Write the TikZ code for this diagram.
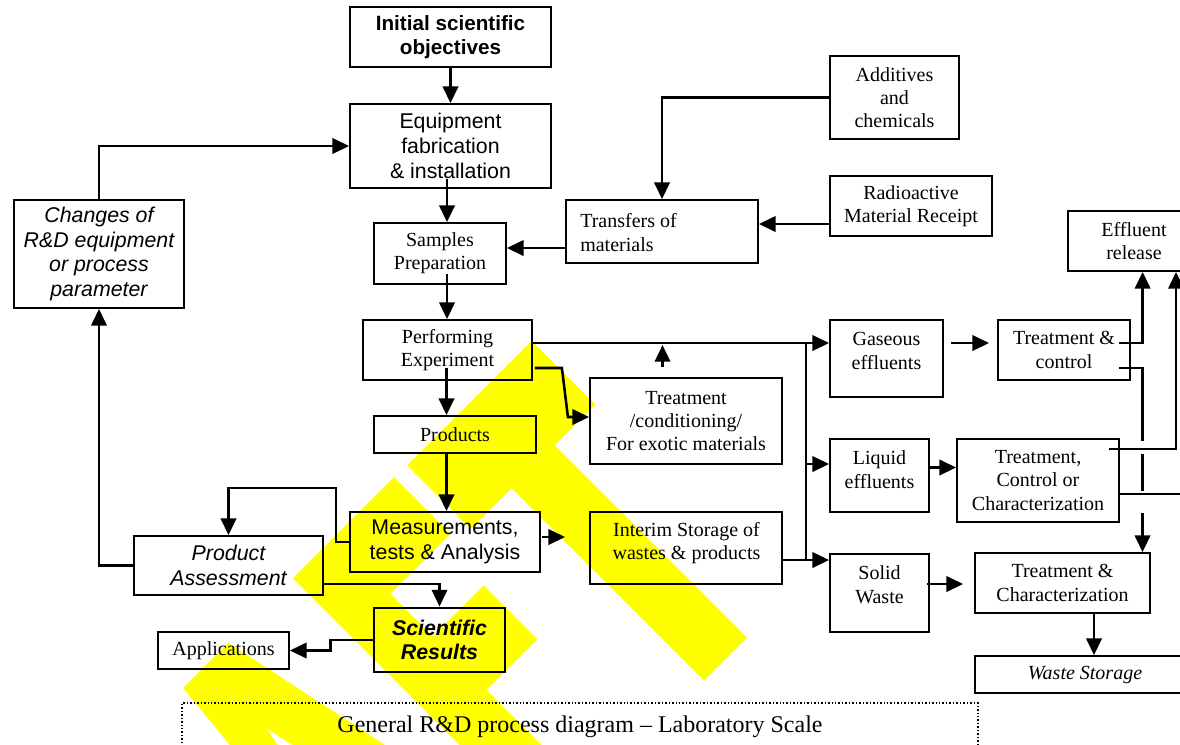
\documentclass[tikz,border=0pt]{standalone}
\usepackage{fontspec}
\setmainfont{Liberation Serif}
\setsansfont{Liberation Sans}
\usetikzlibrary{arrows.meta,calc}
\definecolor{wmyellow}{RGB}{255,255,0}
\begin{document}
\begin{tikzpicture}[x=0.75pt,y=-0.75pt,
  box/.style={draw,line width=1.35pt,inner sep=0pt,align=center},
  sfb/.style={font=\sffamily\fontsize{16}{18.5}\selectfont},
  rmb/.style={font=\rmfamily\fontsize{15}{17.5}\selectfont},
  txt/.style={inner sep=0pt,align=center},
  arr/.style={line width=1.9pt,-{Triangle[length=12.5pt,width=11.5pt]}},
  ln/.style={line width=1.9pt},
  wm/.style={fill=wmyellow}
]
\useasboundingbox (0,0) rectangle (1180,744);
\clip (0,0) rectangle (1180,744);
\fill[white] (0,0) rectangle (1180,744);

% watermark letters
\fill[wm] (407.3,465.3) -- (531.7,340.8) -- (595.4,404.5) -- (554.7,445.1) -- (747.1,637.5) -- (703.9,680.6) -- (511.6,488.3) -- (470.9,528.9) -- cycle;
\fill[wm] (292.7,578.4) -- (393.9,477.3) -- (450.4,533.9) -- (390.3,594.0) -- (432.8,636.4) -- (483.7,585.5) -- (537.4,639.2) -- (486.5,690.1) -- (590.4,794.1) -- (549.4,835.1) -- cycle;
\fill[wm,even odd rule] (183.1,688.0) -- (228.4,642.8) -- (539.0,845.6) -- (414.2,970.4) -- cycle
  (266.0,728.0) -- (360.0,862.7) -- (410.0,820.2) -- cycle;

% nodes
\node[box,line width=1.7pt,minimum width=150.75pt,minimum height=45pt,font=\sffamily\bfseries\fontsize{15.5}{18.5}\selectfont] (init) at (450.5,37) {Initial scientific\\objectives};
\node[box,sfb,minimum width=150.75pt,minimum height=63pt] (equip) at (450.5,146) {Equipment\\fabrication\\\& installation};
\node[box,rmb,minimum width=99pt,minimum height=45.75pt] (samples) at (440,253.5) {Samples\\Preparation};
\node[box,minimum width=144pt,minimum height=47.25pt] (transfers) at (662,231.5) {};
\node[txt,rmb,anchor=west,align=left] (transferstxt) at (580,232.5) {Transfers of\\materials};
\node[box,rmb,minimum width=96.75pt,minimum height=62.25pt] (additives) at (894.5,97.5) {Additives\\and\\chemicals};
\node[box,rmb,minimum width=121.5pt,minimum height=45pt] (radio) at (911,206) {Radioactive\\Material Receipt};
\node[box,font=\sffamily\itshape\fontsize{16}{18.3}\selectfont,minimum width=127.5pt,minimum height=81pt] (changes) at (99,254) {Changes of\\R\&D equipment\\or process\\parameter};
\node[box,rmb,minimum width=126.75pt,minimum height=45pt] (perform) at (447.5,350) {Performing\\Experiment};
\node[box,rmb,minimum width=121.5pt,minimum height=27.75pt] (products) at (455,434.5) {Products};
\node[box,rmb,minimum width=144pt,minimum height=64.5pt] (treatex) at (686,421) {Treatment\\/conditioning/\\For exotic materials};
\node[box,minimum width=84.75pt,minimum height=57.75pt] (gas) at (886.5,358.5) {};
\node[txt,rmb] (gastxt) at (886.5,351) {Gaseous\\effluents};
\node[box,rmb,minimum width=99pt,minimum height=45pt] (tctrl) at (1064,350) {Treatment \&\\control};
\node[box,rmb,minimum width=99pt,minimum height=45pt] (effrel) at (1134,241) {Effluent\\release};
\node[box,minimum width=74.25pt,minimum height=54.75pt] (liquid) at (879.5,475.5) {};
\node[txt,rmb] (liquidtxt) at (879.5,469.5) {Liquid\\effluents};
\node[box,rmb,minimum width=121.5pt,minimum height=62.25pt] (tcc) at (1038,480.5) {Treatment,\\Control or\\Characterization};
\node[box,sfb,minimum width=142.5pt,minimum height=45pt] (meas) at (445,542) {Measurements,\\tests \& Analysis};
\node[box,minimum width=144pt,minimum height=54pt] (interim) at (686,548) {};
\node[txt,rmb] (interimtxt) at (686.5,543) {Interim Storage of\\wastes \& products};
\node[box,minimum width=74.25pt,minimum height=58.5pt] (solid) at (879.5,593) {};
\node[txt,rmb] (solidtxt) at (879.5,584.7) {Solid\\Waste};
\node[box,rmb,minimum width=131.25pt,minimum height=45pt] (tchar) at (1062.5,583) {Treatment \&\\Characterization};
\node[box,font=\sffamily\itshape\fontsize{16}{18.5}\selectfont,minimum width=141.75pt,minimum height=44.25pt] (passess) at (228.5,565.5) {Product\\Assessment};
\node[box,line width=2.2pt,font=\sffamily\bfseries\itshape\fontsize{16}{18.5}\selectfont,minimum width=98.25pt,minimum height=48pt] (sci) at (439.5,640) {Scientific\\Results};
\node[box,rmb,minimum width=98.25pt,minimum height=27.75pt] (apps) at (223.5,650.5) {Applications};
\node[box,font=\rmfamily\itshape\fontsize{15}{17.5}\selectfont,minimum width=165pt,minimum height=27.75pt] (wstore) at (1085,674.5) {Waste Storage};
\node[draw,line width=1.1pt,dash pattern=on 1.1pt off 1.5pt,inner sep=0pt,minimum width=597pt,minimum height=35.25pt,font=\rmfamily\fontsize{18}{20}\selectfont] (caption) at (580,726.5) {General R\&D process diagram -- Laboratory Scale};

% coordinates
\coordinate (bt) at (806,343);
\coordinate (bb) at (806,560);
\coordinate (bl) at (806,464);
\coordinate (stubtop) at (662.5,345);
\coordinate (rout) at (1185,494);

% connectors
\draw[arr] (init) -- (equip);
\draw[arr] (changes.north) |- (equip.west);
\draw[arr] ($(equip.south)+(-3.5,-10)$) -- ($(samples.north)+(7,0)$);
\draw[arr] ($(transfers.west)+(0,16.5)$) -- ($(samples.east)+(0,-5.5)$);
\draw[arr] (additives.west) -| (transfers.north);
\draw[arr] ($(radio.west)+(0,18)$) -- ($(transfers.east)+(0,-7.5)$);
\draw[arr] ($(samples.south)+(7,-11)$) -- ($(perform.north)+(-0.5,0)$);
\draw[arr] ($(perform.south)+(-1,-13)$) -- ($(products.north)+(-8.5,0)$);
\draw[arr] ($(products.south)+(-8.5,0)$) -- ($(meas.north)+(1.5,0)$);
\draw[arr] ($(perform.east)+(0,-7)$) -- ($(gas.west)+(0,-15.5)$);
\draw[ln] (bt) -- (bb);
\draw[arr] (bl) -- (bl -| liquid.west);
\draw[arr] ($(interim.east)+(0,12)$) -- ($(solid.west)+(0,-33)$);
\draw[arr] (treatex.north -| stubtop) ++(0,-10) -- (stubtop);
\draw[arr] ($(perform.east)+(2,18)$) -- ++(27,0) -- ++(6,49) -- ($(treatex.west)+(0,-4)$);
\draw[arr] ($(meas.east)+(1,-5)$) -- ($(interim.west)+(-24,-11)$);
\draw[arr] (meas.west) -- ++(-13,0) -- ++(0,-54) -| (passess.north);
\draw[arr] (passess.west) -| (changes.south);
\draw[arr] ($(passess.east)+(0,18.5)$) -| (sci.north);
\draw[arr] (sci.west) -- ++(-42,0) |- (apps.east);
\draw[arr] ($(gas.east)+(7,-15.5)$) -- ($(tctrl.west)+(-8,-7)$);
\draw[arr] ($(liquid.east)+(0,-8)$) -- ($(tcc.west)+(0,-13)$);
\draw[arr] ($(solid.east)+(-3,-9)$) -- ($(tchar.west)+(-11,1)$);
\draw[arr] ($(tchar.south)+(31.5,0)$) -- ($(wstore.north)+(9,0)$);
\draw[arr] ($(tctrl.east)+(-11.5,-7)$) -| ($(effrel.south)+(8.6,0)$);
\draw[arr] ($(tcc.east)+(-11,-31.5)$) -| ($(effrel.south)+(42,0)$);
\draw[arr,dash pattern=on 72pt off 9.75pt on 27.75pt off 16.5pt on 60pt off 5pt] ($(tctrl.east)+(-11.5,18)$) -| ($(tchar.north)+(80,0)$);
\draw[ln] (tcc.east |- rout) -- (rout);
\end{tikzpicture}
\end{document}
